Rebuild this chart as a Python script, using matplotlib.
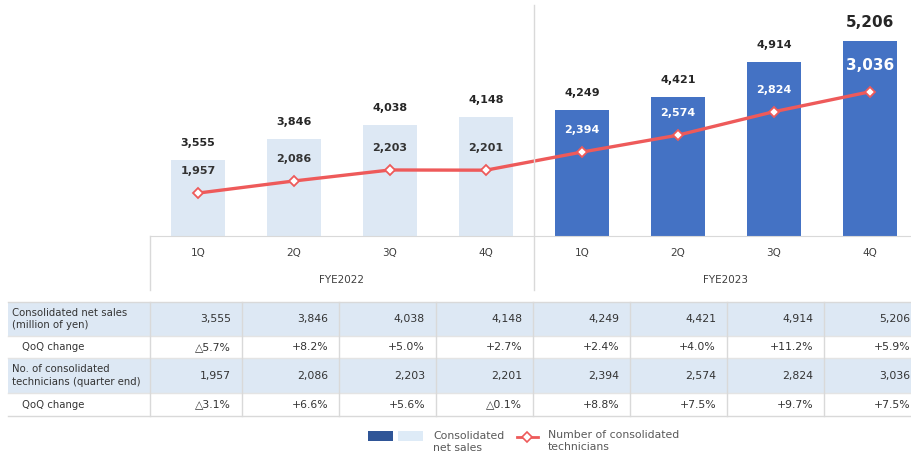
import matplotlib
matplotlib.use("Agg")
import matplotlib.pyplot as plt
from matplotlib.patches import Rectangle

# data
quarters = ["1Q", "2Q", "3Q", "4Q", "1Q", "2Q", "3Q", "4Q"]
years = ["FYE2022", "FYE2023"]
sales = [3555, 3846, 4038, 4148, 4249, 4421, 4914, 5206]
techs = [1957, 2086, 2203, 2201, 2394, 2574, 2824, 3036]
sales_qoq = ["△5.7%", "+8.2%", "+5.0%", "+2.7%", "+2.4%", "+4.0%", "+11.2%", "+5.9%"]
tech_qoq = ["△3.1%", "+6.6%", "+5.6%", "△0.1%", "+8.8%", "+7.5%", "+9.7%", "+7.5%"]
row_labels = ["Consolidated net sales\n(million of yen)", "QoQ change",
              "No. of consolidated\ntechnicians (quarter end)", "QoQ change"]

W, H = 912, 458
DARK = "#4472C4"
LIGHT = "#DDE8F4"
RED = "#EE5A5A"
TXT = "#333333"
GRID = "#D9D9D9"

plt.rcParams["font.family"] = "DejaVu Sans"

fig = plt.figure(figsize=(W / 100, H / 100), dpi=100)
ax = fig.add_axes([150 / W, 1 - 236 / H, 762 / W, 236 / H])
x = list(range(len(sales)))
colors = [LIGHT] * 4 + [DARK] * 4
ax.bar(x, sales, width=0.5625, color=colors, zorder=2)
ax.set_xlim(-0.5, 7.4375)
ax.set_ylim(2500, 5773)
for s in ["top", "left", "right"]:
    ax.spines[s].set_visible(False)
ax.spines["bottom"].set_color(GRID)
ax.set_xticks([])
ax.set_yticks([])

for i, v in enumerate(sales):
    big = i == len(sales) - 1
    ax.annotate(f"{v:,}", (i, v), xytext=(0, 18 if big else 17), textcoords="offset pixels",
                ha="center", va="center", fontsize=11 if big else 8,
                fontweight="bold", color="#262626")

ax2 = ax.twinx()
ax2.set_ylim(1500, 4013)
ax2.axis("off")
ax2.plot(x, techs, color=RED, lw=2.4, marker="D", ms=5.5, mfc="white", mec=RED,
         mew=1.3, zorder=3)
for i, v in enumerate(techs):
    big = i == len(techs) - 1
    ax2.annotate(f"{v:,}", (i, v), xytext=(0, 26 if big else 22), textcoords="offset pixels",
                 ha="center", va="center", fontsize=11 if big else 8, fontweight="bold",
                 color="white" if i >= 4 else TXT)

# overlay in pixel coords for category axis, table and legend
ov = fig.add_axes([0, 0, 1, 1])
ov.set_xlim(0, W)
ov.set_ylim(H, 0)
ov.axis("off")

ov.plot([150, 150], [236, 290], color=GRID, lw=1)
ov.plot([534, 534], [5, 290], color=GRID, lw=1)
for i, q in enumerate(quarters):
    ov.text(198 + 96 * i, 253, q, ha="center", va="center", fontsize=7.5, color="#404040")
ov.text(342, 280, years[0], ha="center", va="center", fontsize=7.5, color="#404040")
ov.text(726, 280, years[1], ha="center", va="center", fontsize=7.5, color="#404040")

# table
row_y = [302, 336, 358, 393, 416]
col_x = [150, 242, 339, 436, 533, 630, 727, 824, 921]
rows = [[f"{v:,}" for v in sales], sales_qoq, [f"{v:,}" for v in techs], tech_qoq]
for r in range(4):
    y0, y1 = row_y[r], row_y[r + 1]
    bg = LIGHT if r % 2 == 0 else "white"
    ov.add_patch(Rectangle((8, y0), W - 8, y1 - y0, facecolor=bg, edgecolor="none"))
    ym = (y0 + y1) / 2
    ov.text(12 if r % 2 == 0 else 22, ym, row_labels[r], ha="left", va="center",
            fontsize=7.3, color=TXT, linespacing=1.3)
    for c, s in enumerate(rows[r]):
        ov.text(col_x[c + 1] - 11, ym, s, ha="right", va="center", fontsize=7.8, color=TXT)
for y in row_y:
    ov.plot([8, W], [y, y], color="#E4E4E4" if y not in (302, 416) else GRID, lw=1)
for cx in col_x[:-1]:
    ov.plot([cx, cx], [302, 416], color=GRID, lw=1)

# legend
ov.add_patch(Rectangle((368, 431), 25, 10, facecolor="#2F5597", edgecolor="none"))
ov.add_patch(Rectangle((398, 431), 25, 10, facecolor="#DEEBF7", edgecolor="none"))
ov.text(433, 442, "Consolidated\nnet sales", ha="left", va="center", fontsize=7.8,
        color="#595959", linespacing=1.3)
ov.plot([517, 538], [437, 437], color=RED, lw=2)
ov.plot([527], [437], marker="D", ms=5, mfc="white", mec=RED, mew=1.2)
ov.text(548, 441, "Number of consolidated\ntechnicians", ha="left", va="center",
        fontsize=7.8, color="#595959", linespacing=1.3)

fig.savefig("out.png", dpi=100)
